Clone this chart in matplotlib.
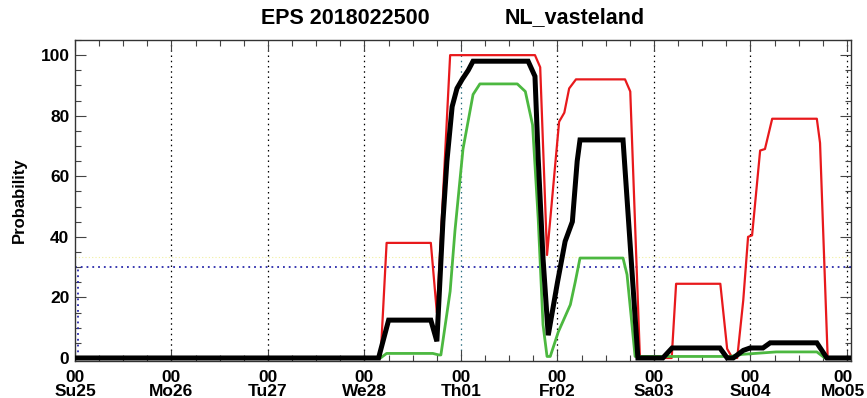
import matplotlib
matplotlib.use("Agg")
import matplotlib.pyplot as plt
import matplotlib.transforms as mtransforms
from matplotlib.ticker import MultipleLocator, FixedLocator

plt.rcParams['font.family'] = ['Liberation Sans', 'DejaVu Sans']
plt.rcParams['font.weight'] = 'bold'

title_left = "EPS 2018022500"
title_right = "NL_vasteland"
ylabel = "Probability"
day_labels = ["Su25", "Mo26", "Tu27", "We28", "Th01", "Fr02", "Sa03", "Su04", "Mo05"]
threshold = 30
yellow_level = 33.5

# hours since 2018-02-25 00 UTC, probability (%)
black_t = [0, 75.5, 78, 88.5, 90, 91.5, 92.5, 93.8, 95, 96.3, 97.8, 99, 112.7, 114.4, 115.2,
           116.4, 117.7, 120, 121.9, 123.7, 124.9, 125.6, 136.3, 140, 146.2, 148.5, 160.4,
           162.2, 163.7, 166.2, 167.9, 171.1, 172.9, 184.5, 187, 193]
black_p = [0, 0, 12.5, 12.5, 5.5, 45, 65, 83, 89, 92, 95, 98, 98, 93, 66,
           33, 7.5, 25, 38.5, 45, 65, 72, 72, 0, 0, 3.3, 3.3,
           0, 0, 2.5, 3.3, 3.3, 5, 5, 0, 0]

red_t = [0, 76, 77.5, 88.5, 90, 91, 93.3, 114.4, 115.7, 117.4, 120.4, 121.7, 122.9, 124.6,
         136.8, 138.1, 140.5, 148.4, 149.5, 160.5, 162.2, 163.5, 164.7, 166.2, 167.4, 168.4,
         170.4, 171.6, 173.4, 184.5, 185.3, 187.2, 193]
red_p = [0, 0, 38, 38, 15, 40, 100, 100, 96, 34, 78, 81, 89, 92,
         92, 88, 0, 0, 24.5, 24.5, 3, 0, 0, 19, 40, 40.5,
         68.5, 69, 79, 79, 71, 0, 0]

green_t = [0, 76, 77.5, 89, 90.5, 91, 93.3, 94.5, 96.5, 99, 100.7, 110, 112, 113.8, 115.2,
           116.4, 117.4, 118.2, 120.2, 123.2, 124.4, 125.6, 136.3, 137.3, 139.3, 163, 166,
           174.4, 184.5, 186.5, 193]
green_p = [0, 0, 1.5, 1.5, 1, 1, 22, 42, 69, 87, 90.5, 90.5, 88, 77, 46,
           11, 0.5, 0.5, 8.6, 17.6, 25, 33, 33, 27.5, 0.5, 0.5, 1.2,
           2, 2, 0, 0]

fig = plt.figure(figsize=(8.67, 3.98), dpi=100)
ax = fig.add_axes([75 / 867, 1 - 361 / 398, (851 - 75) / 867, (361 - 40) / 398])

xmax = 193
ax.set_xlim(0, xmax)
ax.set_ylim(-1, 105)

# day grid lines
for i in range(1, len(day_labels)):
    col = '#2a6f80' if day_labels[i] == "Th01" else 'black'
    ax.axvline(i * 24, color=col, lw=0.9, ls=(0, (1.2, 3)), zorder=1)

# threshold lines
ax.axhline(yellow_level, color='#f0f0a0', lw=0.8, ls=(0, (1, 2)), zorder=1)
ax.axhline(threshold, color='#2a2aaa', lw=1.3, ls=(0, (1, 2.2)), zorder=2)
ax.plot([0.8, 0.8], [0, threshold], color='#2a2aaa', lw=1.3, ls=(0, (1, 2.2)), zorder=2)

ax.plot(red_t, red_p, color='#e8191c', lw=1.6, zorder=3)
ax.plot(green_t, green_p, color='#4cb840', lw=2.0, zorder=4)
ax.plot(black_t, black_p, color='black', lw=3.6, zorder=5, solid_joinstyle='miter')

day_pos = [i * 24 for i in range(len(day_labels))]
ax.xaxis.set_major_locator(FixedLocator(day_pos))
ax.set_xticklabels([])
ax.xaxis.set_minor_locator(MultipleLocator(6))
ax.yaxis.set_major_locator(MultipleLocator(20))
ax.yaxis.set_minor_locator(MultipleLocator(5))
for lbl in ax.get_yticklabels():
    lbl.set_fontsize(12.5)
    lbl.set_fontweight('bold')

# day labels drawn as text below the axis
xtr = ax.get_xaxis_transform()
for i, (pos, d) in enumerate(zip(day_pos, day_labels)):
    tr = xtr + mtransforms.ScaledTranslation(0, -9 / 100, fig.dpi_scale_trans)
    if i == len(day_labels) - 1:
        tr = tr + mtransforms.ScaledTranslation(-4 / 100, 0, fig.dpi_scale_trans)
    ax.text(pos, 0, "00\n" + d, transform=tr, ha='center', va='top', fontsize=12.5,
            fontweight='bold', linespacing=0.9, clip_on=False)

ax.tick_params(which='both', direction='in', top=True, right=True, width=0.8, color='#444444')
ax.tick_params(which='major', length=8)
ax.tick_params(which='minor', length=4)
ax.tick_params(axis='y', which='major', pad=4)

for s in ax.spines.values():
    s.set_color('#333333')
    s.set_linewidth(1.0)

ax.set_ylabel(ylabel, fontsize=12, fontweight='bold', labelpad=10)

fig.text(345 / 867, 1 - 18 / 398, title_left, ha='center', va='center', fontsize=15.5, fontweight='bold')
fig.text(575 / 867, 1 - 18 / 398, title_right, ha='center', va='center', fontsize=15.5, fontweight='bold')

fig.savefig("out.png", dpi=100)
